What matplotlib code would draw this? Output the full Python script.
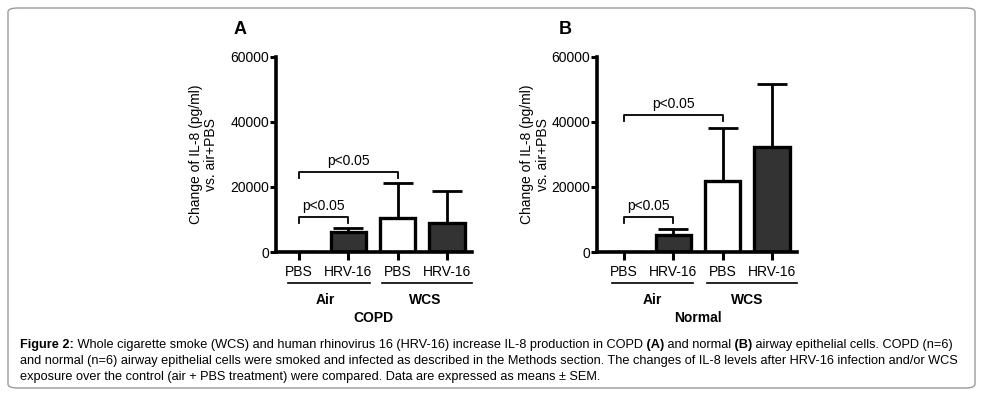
import matplotlib
matplotlib.use("Agg")
import matplotlib.pyplot as plt
import matplotlib.transforms as mtransforms
from matplotlib.patches import FancyBboxPatch

# values
labels = ["PBS", "HRV-16", "PBS", "HRV-16"]
groups = ["Air", "WCS"]
copd_mean = [0, 6100, 10600, 9000]
copd_sem = [0, 1300, 10700, 9900]
normal_mean = [0, 5300, 21700, 32200]
normal_sem = [0, 1900, 16600, 19600]
copd_sig = [(0, 1, 10800), (0, 2, 24600)]
normal_sig = [(0, 1, 10800), (0, 2, 42200)]
yticks = [0, 20000, 40000, 60000]

plt.rcParams["font.family"] = ["Liberation Sans", "DejaVu Sans"]

W, H = 983, 395
fig = plt.figure(figsize=(W / 100, H / 100), dpi=100)


def px(x0, y0, x1, y1):
    return [x0 / W, 1 - y1 / H, (x1 - x0) / W, (y1 - y0) / H]


def panel(rect, means, sems, sigs, xlo, title, letter, letter_x, ylab_x, grp):
    ax = fig.add_axes(rect)
    x = list(range(len(means)))
    fills = ["#333333" if "HRV" in l else "white" for l in labels]
    ax.bar(x, means, width=0.72, color=fills, edgecolor="black", linewidth=2.4, zorder=2)
    for i in x:
        if sems[i] > 0:
            ax.errorbar(i, means[i], yerr=[[0], [sems[i]]], color="black",
                        elinewidth=2, capsize=11, capthick=2, zorder=1)
    ax.set_xlim(xlo, 3.51)
    ax.set_ylim(0, 60000)
    ax.set_yticks(yticks)
    ax.set_xticks(x)
    ax.set_xticklabels(labels, fontsize=10)
    ax.tick_params(axis="y", labelsize=10, length=4, width=2.2, pad=1)
    ax.tick_params(axis="x", length=6, width=2.2, pad=3)
    for s in ["top", "right"]:
        ax.spines[s].set_visible(False)
    for s in ["left", "bottom"]:
        ax.spines[s].set_linewidth(2.6)

    # significance brackets
    for a, b, y in sigs:
        ax.plot([a, a, b, b], [y - 1800, y, y, y - 1800], color="black", lw=1.3, clip_on=False)
        ax.text((a + b) / 2, y + 1300, "p<0.05", ha="center", va="bottom", fontsize=10)

    # group lines under the tick labels
    tr = mtransforms.blended_transform_factory(ax.transData, ax.transAxes)
    for (g0, g1, gx), name in zip(grp, groups):
        ax.plot([g0, g1], [-0.159, -0.159], color="black", lw=1.2, transform=tr, clip_on=False)
        ax.text(gx, -0.245, name, transform=tr, ha="center", va="center",
                fontsize=10, fontweight="bold")
    ax.text(1.5, -0.34, title, transform=tr, ha="center", va="center",
            fontsize=10, fontweight="bold")
    ax.text(ylab_x, 0.5, "Change of IL-8 (pg/ml)\nvs. air+PBS", transform=ax.transAxes,
            rotation=90, ha="center", va="center", fontsize=10, linespacing=1.1)
    fig.text(letter_x / W, 1 - 30 / H, letter, fontsize=13, fontweight="bold",
             ha="center", va="center")
    return ax


panel(px(276, 57, 472, 252), copd_mean, copd_sem, copd_sig, -0.47, "COPD", "A", 240, -0.37,
      [(-0.22, 1.44, 0.53), (1.68, 3.51, 2.56)])
panel(px(597, 57, 797, 252), normal_mean, normal_sem, normal_sig, -0.55, "Normal", "B", 565, -0.31,
      [(-0.24, 1.40, 0.57), (1.68, 3.51, 2.49)])

# border box
fig.patches.append(FancyBboxPatch((8 / W, 1 - 388 / H), 967 / W, 380 / H,
                                  boxstyle="round,pad=0,rounding_size=0.01",
                                  transform=fig.transFigure, fill=False,
                                  edgecolor="#9a9a9a", linewidth=1))

# caption with bold pieces (spaces kept at the start of pieces so they get measured)
cap_lines = [
    [("Figure 2:", True), (" Whole cigarette smoke (WCS) and human rhinovirus 16 (HRV-16) increase IL-8 production in COPD", False),
     (" (A)", True), (" and normal", False), (" (B)", True), (" airway epithelial cells. COPD (n=6)", False)],
    [("and normal (n=6) airway epithelial cells were smoked and infected as described in the Methods section. The changes of IL-8 levels after HRV-16 infection and/or WCS", False)],
    [("exposure over the control (air + PBS treatment) were compared. Data are expressed as means \u00b1 SEM.", False)],
]
renderer = fig.canvas.get_renderer()


def draw_caption(size, keep=True):
    drawn = []
    widths = []
    for k, line in enumerate(cap_lines):
        xpos = 20
        ypos = 345 + 16 * k
        for txt, bold in line:
            t = fig.text(xpos / W, 1 - ypos / H, txt, fontsize=size,
                         fontweight="bold" if bold else "normal", va="center", ha="left")
            xpos += t.get_window_extent(renderer).width
            drawn.append(t)
        widths.append(xpos - 20)
    if not keep:
        for t in drawn:
            t.remove()
    return widths


w = draw_caption(8, keep=False)
draw_caption(8 * 945 / w[0])

fig.savefig("out.png", dpi=100)
